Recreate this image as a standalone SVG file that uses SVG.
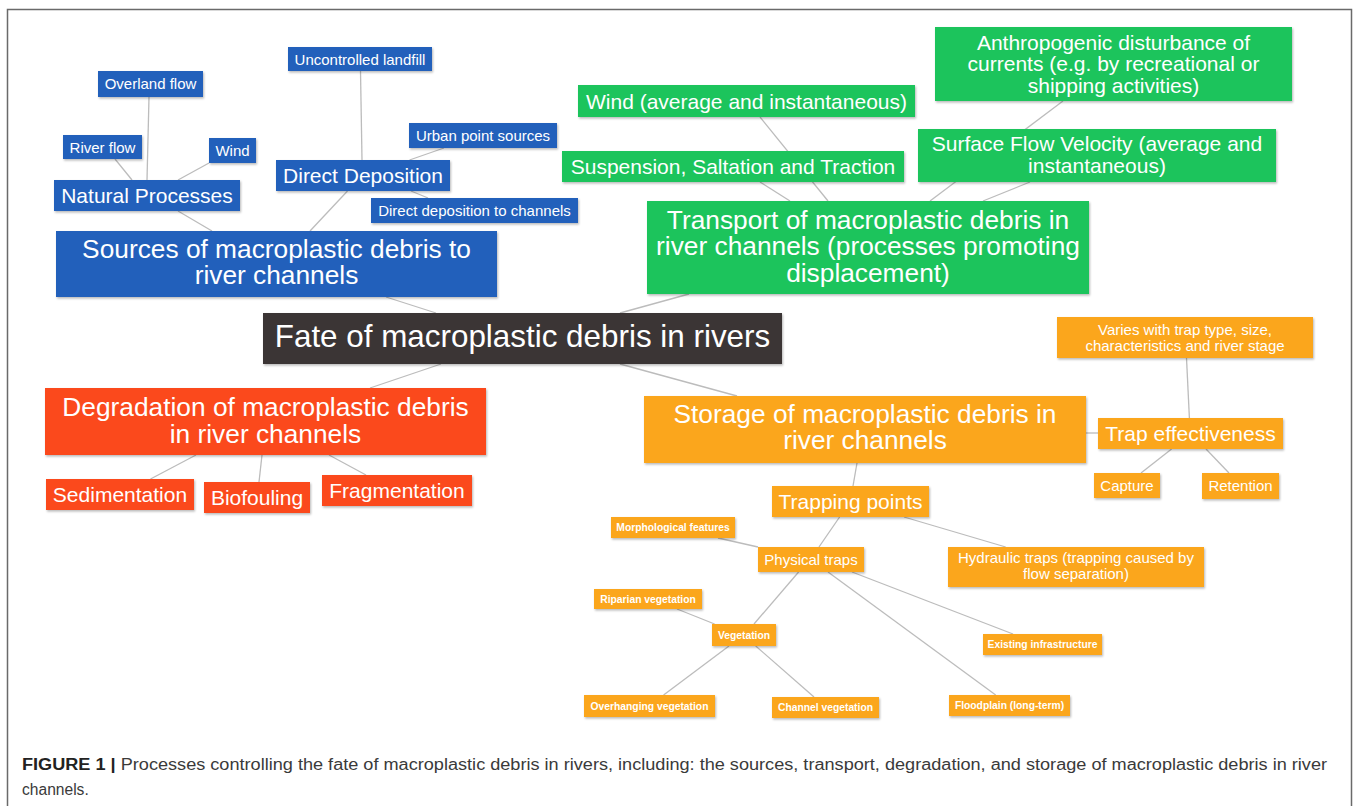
<svg xmlns="http://www.w3.org/2000/svg" width="1358" height="806" viewBox="0 0 1358 806">
<defs>
<filter id="sh" x="-5%" y="-10%" width="110%" height="130%">
<feDropShadow dx="1" dy="1.5" stdDeviation="1" flood-color="#000" flood-opacity="0.28"/>
</filter>
<style>
.b{fill:#2260bb;filter:url(#sh)}
.g{fill:#1ec45c;filter:url(#sh)}
.r{fill:#fb4a1d;filter:url(#sh)}
.o{fill:#fba61e;filter:url(#sh)}
.k{fill:#3a3634;filter:url(#sh)}
text{font-family:"Liberation Sans",Arial,sans-serif;fill:#fff;text-anchor:middle}
.f15{font-size:15px}
.f21{font-size:21px}
.f26{font-size:26.3px}
.f31{font-size:31.4px}
.s{font-size:10.3px;font-weight:bold}
#connectors line{stroke:#bcbcbc;stroke-width:1.3;fill:none}
.cap{text-anchor:start;fill:#3a3a3a;font-size:15.6px}
</style>
</defs>
<rect width="1358" height="806" fill="#fff"/>
<path d="M7.5,806 V9.5 H1351.5 V806" fill="none" stroke="#6a6a6a" stroke-width="1.5"/>

<g id="connectors">
<line x1="149" y1="97" x2="147" y2="180"/>
<line x1="115" y1="159" x2="132" y2="180"/>
<line x1="209" y1="163" x2="178" y2="180"/>
<line x1="178" y1="211" x2="212" y2="231"/>
<line x1="360.5" y1="71" x2="362" y2="160"/>
<line x1="444" y1="148" x2="409.5" y2="160"/>
<line x1="411" y1="191" x2="428" y2="198"/>
<line x1="347.5" y1="191" x2="310" y2="231"/>
<line x1="386" y1="297" x2="436" y2="313"/>
<line x1="760" y1="117" x2="828" y2="201"/>
<line x1="760" y1="182" x2="790" y2="201"/>
<line x1="1063" y1="101" x2="930" y2="201"/>
<line x1="1030" y1="182" x2="983" y2="201"/>
<line x1="689" y1="294" x2="620" y2="313"/>
<line x1="441" y1="364" x2="370" y2="388"/>
<line x1="620" y1="364" x2="737" y2="396"/>
<line x1="196" y1="455" x2="150.5" y2="479"/>
<line x1="262" y1="455" x2="259" y2="482"/>
<line x1="329" y1="455" x2="366" y2="475"/>
<line x1="1086" y1="433" x2="1098" y2="433"/>
<line x1="1186.5" y1="358" x2="1189.4" y2="418"/>
<line x1="1171.6" y1="449" x2="1141" y2="473"/>
<line x1="1206" y1="449" x2="1229" y2="473"/>
<line x1="857" y1="463" x2="853" y2="486"/>
<line x1="839.6" y1="517" x2="819" y2="547"/>
<line x1="904" y1="517" x2="1005.7" y2="547"/>
<line x1="718" y1="538" x2="758" y2="547"/>
<line x1="798.6" y1="572" x2="754" y2="624"/>
<line x1="828" y1="572" x2="995.7" y2="695"/>
<line x1="852" y1="572" x2="1013" y2="634"/>
<line x1="677" y1="609" x2="714.6" y2="624"/>
<line x1="729" y1="646" x2="663.6" y2="695"/>
<line x1="755.7" y1="646" x2="814" y2="697"/>
</g>

<g id="n-overland"><rect class="b" x="98" y="71" width="105" height="26"/><text class="f15" x="150.5" y="89">Overland flow</text></g>
<g id="n-riverflow"><rect class="b" x="63" y="135" width="79" height="24"/><text class="f15" x="102.5" y="152.5">River flow</text></g>
<g id="n-windb"><rect class="b" x="209" y="138" width="47" height="25"/><text class="f15" x="232.5" y="156">Wind</text></g>
<g id="n-natural"><rect class="b" x="54" y="180" width="186" height="31"/><text class="f21" x="147" y="203">Natural Processes</text></g>
<g id="n-landfill"><rect class="b" x="288" y="47" width="144" height="24"/><text class="f15" x="360" y="64.5">Uncontrolled landfill</text></g>
<g id="n-urban"><rect class="b" x="409" y="123" width="148" height="25"/><text class="f15" x="483" y="141">Urban point sources</text></g>
<g id="n-direct"><rect class="b" x="276" y="160" width="174" height="31"/><text class="f21" x="363" y="183">Direct Deposition</text></g>
<g id="n-dchannels"><rect class="b" x="371" y="198" width="207" height="25"/><text class="f15" x="474.5" y="216">Direct deposition to channels</text></g>
<g id="n-sources"><rect class="b" x="56" y="231" width="441" height="66"/><text class="f26" x="276.5" y="257.5">Sources of macroplastic debris to</text><text class="f26" x="276.5" y="284">river channels</text></g>

<g id="n-windg"><rect class="g" x="578" y="85" width="337" height="32"/><text class="f21" x="746.5" y="108.5">Wind (average and instantaneous)</text></g>
<g id="n-anthro"><rect class="g" x="935" y="27" width="357" height="74"/><text class="f21" x="1113.5" y="49.5">Anthropogenic disturbance of</text><text class="f21" x="1113.5" y="71">currents (e.g. by recreational or</text><text class="f21" x="1113.5" y="92.5">shipping activities)</text></g>
<g id="n-suspension"><rect class="g" x="562" y="151" width="342" height="31"/><text class="f21" x="733" y="174">Suspension, Saltation and Traction</text></g>
<g id="n-surface"><rect class="g" x="918" y="129" width="358" height="53"/><text class="f21" x="1097" y="151">Surface Flow Velocity (average and</text><text class="f21" x="1097" y="172.5">instantaneous)</text></g>
<g id="n-transport"><rect class="g" x="647" y="201" width="442" height="93"/><text class="f26" x="868" y="228.5">Transport of macroplastic debris in</text><text class="f26" x="868" y="255">river channels (processes promoting</text><text class="f26" x="868" y="281.5">displacement)</text></g>

<g id="n-fate"><rect class="k" x="263" y="313" width="519" height="51"/><text class="f31" x="522.5" y="347">Fate of macroplastic debris in rivers</text></g>

<g id="n-degradation"><rect class="r" x="45" y="388" width="441" height="67"/><text class="f26" x="265.5" y="416">Degradation of macroplastic debris</text><text class="f26" x="265.5" y="442.5">in river channels</text></g>
<g id="n-sedimentation"><rect class="r" x="46" y="479" width="148" height="31"/><text class="f21" x="120" y="502">Sedimentation</text></g>
<g id="n-biofouling"><rect class="r" x="204" y="482" width="106" height="31"/><text class="f21" x="257" y="505">Biofouling</text></g>
<g id="n-fragmentation"><rect class="r" x="322" y="475" width="150" height="31"/><text class="f21" x="397" y="498">Fragmentation</text></g>

<g id="n-storage"><rect class="o" x="644" y="396" width="442" height="67"/><text class="f26" x="865" y="422.5">Storage of macroplastic debris in</text><text class="f26" x="865" y="448.5">river channels</text></g>
<g id="n-varies"><rect class="o" x="1057" y="317" width="256" height="41"/><text class="f15" x="1185" y="334.5">Varies with trap type, size,</text><text class="f15" x="1185" y="350.5">characteristics and river stage</text></g>
<g id="n-trapeff"><rect class="o" x="1098" y="418" width="185" height="31"/><text class="f21" x="1190.5" y="441">Trap effectiveness</text></g>
<g id="n-capture"><rect class="o" x="1094" y="473" width="66" height="25"/><text class="f15" x="1127" y="491">Capture</text></g>
<g id="n-retention"><rect class="o" x="1202" y="473" width="77" height="26"/><text class="f15" x="1240.5" y="491">Retention</text></g>
<g id="n-trapping"><rect class="o" x="772" y="486" width="157" height="31"/><text class="f21" x="850.5" y="509">Trapping points</text></g>
<g id="n-morph"><rect class="o" x="611" y="517" width="124" height="21"/><text class="s" x="673" y="531">Morphological features</text></g>
<g id="n-physical"><rect class="o" x="758" y="547" width="106" height="25"/><text class="f15" x="811" y="565">Physical traps</text></g>
<g id="n-hydraulic"><rect class="o" x="948" y="547" width="256" height="40"/><text class="f15" x="1076" y="563">Hydraulic traps (trapping caused by</text><text class="f15" x="1076" y="578.5">flow separation)</text></g>
<g id="n-riparian"><rect class="o" x="594" y="589" width="108" height="20"/><text class="s" x="648" y="602.5">Riparian vegetation</text></g>
<g id="n-vegetation"><rect class="o" x="712" y="624" width="64" height="22"/><text class="s" x="744" y="638.5">Vegetation</text></g>
<g id="n-existing"><rect class="o" x="983" y="634" width="119" height="21"/><text class="s" x="1042.5" y="648">Existing infrastructure</text></g>
<g id="n-floodplain"><rect class="o" x="949" y="695" width="121" height="21"/><text class="s" x="1009.5" y="709">Floodplain (long-term)</text></g>
<g id="n-overhanging"><rect class="o" x="584" y="695" width="131" height="22"/><text class="s" x="649.5" y="709.5">Overhanging vegetation</text></g>
<g id="n-channelveg"><rect class="o" x="772" y="697" width="107" height="21"/><text class="s" x="825.5" y="711">Channel vegetation</text></g>

<g id="caption">
<text class="cap" x="22" y="770" textLength="1305" lengthAdjust="spacingAndGlyphs"><tspan font-weight="bold" fill="#222">FIGURE 1 |</tspan> Processes controlling the fate of macroplastic debris in rivers, including: the sources, transport, degradation, and storage of macroplastic debris in river</text>
<text class="cap" x="22" y="795">channels.</text>
</g>
</svg>
